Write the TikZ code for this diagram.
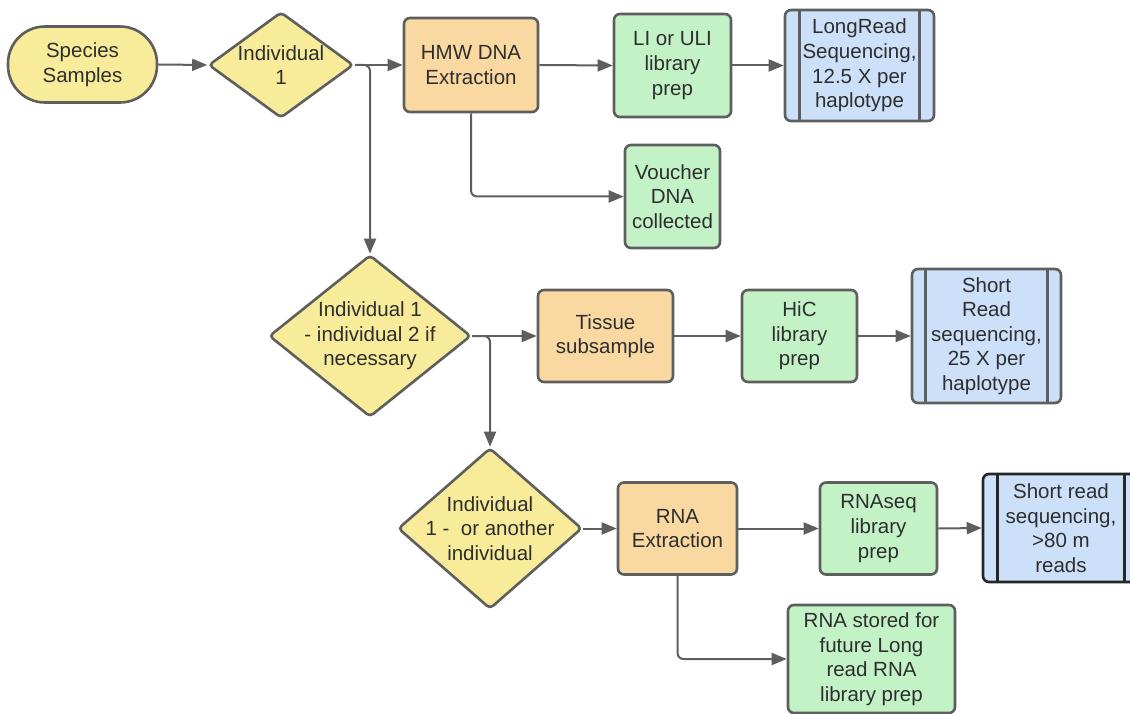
\documentclass[tikz,border=0pt]{standalone}
\usepackage{fontspec}
\setmainfont{Liberation Sans}
\usetikzlibrary{shapes.geometric,arrows.meta}
\definecolor{yel}{HTML}{F8EC9A}
\definecolor{org}{HTML}{F9D9A1}
\definecolor{grn}{HTML}{C3F2C7}
\definecolor{blu}{HTML}{CDE0FA}
\definecolor{edge}{HTML}{5E5E5E}
\definecolor{txt}{HTML}{2E2E2E}
\begin{document}
\begin{tikzpicture}[x=1pt,y=-1pt,
  base/.style={draw=edge, line width=2.6pt, text=txt, font=\fontsize{20.5}{24.6}\selectfont, align=center, inner sep=0pt},
  box/.style={base, rectangle, rounded corners=6pt},
  term/.style={base, rectangle, rounded corners=37pt, fill=yel},
  dia/.style={base, diamond, fill=yel, rounded corners=4pt},
  dtext/.style={text=txt, font=\fontsize{20.5}{24.6}\selectfont, align=center, inner sep=0pt},
  bar/.style={draw=edge, line width=2.6pt},
  conn/.style={draw=edge, line width=2pt, -{Triangle[length=15pt,width=12pt]}},
  elbow/.style={conn, rounded corners=6pt}
]
\useasboundingbox (0,0) rectangle (1130,714);

% row 1
\node[term, minimum width=149pt, minimum height=76pt] (ss) at (82.5,64.5) {Species\\Samples};
\node[dia, minimum width=145pt, minimum height=106pt] (d1) at (281,65) {};
\node[dtext] (d1t) at (d1.center) {Individual\\1};
\node[box, fill=org, minimum width=134pt, minimum height=94pt] (hmw) at (471,65) {HMW DNA\\Extraction};
\node[box, fill=grn, minimum width=117pt, minimum height=103pt] (li) at (672.5,65.5) {LI or ULI\\library\\prep};
\node[box, fill=blu, minimum width=149pt, minimum height=111pt] (lr) at (859.5,65.5) {LongRead\\Sequencing,\\12.5 X per\\haplotype};
\draw[bar] ([xshift=16pt]lr.north west) -- ([xshift=16pt]lr.south west);
\draw[bar] ([xshift=-16pt]lr.north east) -- ([xshift=-16pt]lr.south east);
\node[box, fill=grn, minimum width=95pt, minimum height=103pt] (vou) at (672.5,196.5) {Voucher\\DNA\\collected};

% row 2
\node[dia, minimum width=202pt, minimum height=162pt] (d2) at (370,336) {};
\node[dtext] (d2t) at (d2.center) {Individual 1\\- individual 2 if\\necessary};
\node[box, fill=org, minimum width=135pt, minimum height=92pt] (tis) at (605.5,336) {Tissue\\subsample};
\node[box, fill=grn, minimum width=115pt, minimum height=92pt] (hic) at (799.5,336) {HiC\\library\\prep};
\node[box, fill=blu, minimum width=149pt, minimum height=134pt] (sr) at (986.5,336) {Short\\Read\\sequencing,\\25 X per\\haplotype};
\draw[bar] ([xshift=15pt]sr.north west) -- ([xshift=15pt]sr.south west);
\draw[bar] ([xshift=-15pt]sr.north east) -- ([xshift=-15pt]sr.south east);

% row 3
\node[dia, minimum width=184pt, minimum height=161pt] (d3) at (490,528.5) {};
\node[dtext] (d3t) at (d3.center) {Individual\\1 - \ or another\\individual};
\node[box, fill=org, minimum width=119pt, minimum height=92pt] (rna) at (677.5,528.5) {RNA\\Extraction};
\node[box, fill=grn, minimum width=117pt, minimum height=92pt] (rsq) at (878.5,528.5) {RNAseq\\library\\prep};
\node[box, fill=blu, draw=black!85, minimum width=156pt, minimum height=108pt] (sr2) at (1061,528) {Short read\\sequencing,\\>80 m\\reads};
\draw[bar, draw=black!85] ([xshift=16pt]sr2.north west) -- ([xshift=16pt]sr2.south west);
\draw[bar, draw=black!85] ([xshift=-16pt]sr2.north east) -- ([xshift=-16pt]sr2.south east);
\node[box, fill=grn, minimum width=167pt, minimum height=108pt] (sto) at (871.5,659) {RNA stored for\\future Long\\read RNA\\library prep};

% connectors
\draw[conn] (ss.east) -- (d1.west);
\draw[conn] (d1.east) -- (hmw.west);
\draw[elbow] (d1.east) -| (d2.north);
\draw[conn] (hmw.east) -- (li.west);
\draw[conn] (li.east) -- (lr.west);
\draw[elbow] (hmw.south) |- (vou.west);
\draw[conn] (d2.east) -- (tis.west);
\draw[elbow] (d2.east) -| (d3.north);
\draw[conn] (tis.east) -- (hic.west);
\draw[conn] (hic.east) -- (sr.west);
\draw[conn] (d3.east) -- (rna.west);
\draw[conn] (rna.east) -- (rsq.west);
\draw[conn] (rsq.east) -- (sr2.west);
\draw[elbow] (rna.south) |- (sto.west);
\end{tikzpicture}
\end{document}
